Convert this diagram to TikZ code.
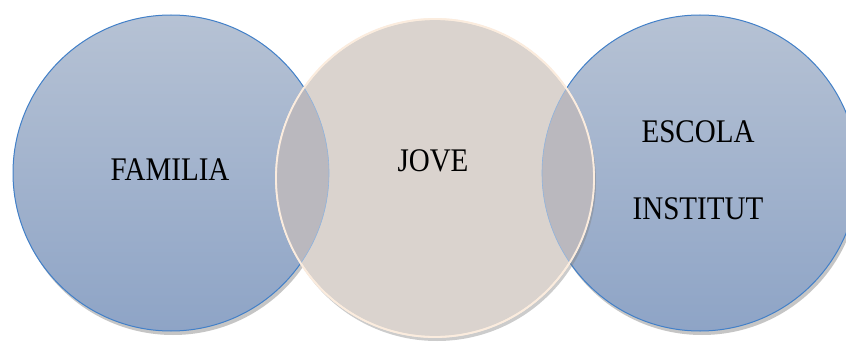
\documentclass[tikz,border=0pt]{standalone}
\usepackage{fontspec}
\setmainfont{Liberation Serif}
\usepackage{tikz}
\usetikzlibrary{shadows,positioning}
\definecolor{bluetop}{RGB}{182,194,212}
\definecolor{bluebot}{RGB}{142,164,198}
\definecolor{blueedge}{RGB}{66,128,200}
\definecolor{beige}{RGB}{218,211,206}
\definecolor{beigeedge}{RGB}{251,236,222}
\definecolor{overlap}{RGB}{186,184,190}

\tikzset{
  sidecircle/.style={circle, minimum size=316pt, inner sep=0pt,
    top color=bluetop, bottom color=bluebot, draw=blueedge, line width=1pt,
    drop shadow={shadow xshift=2pt, shadow yshift=-4pt, opacity=0.45}},
  midcircle/.style={circle, minimum size=318pt, inner sep=0pt,
    fill=beige, draw=beigeedge, line width=1.8pt,
    drop shadow={shadow xshift=2pt, shadow yshift=-4pt, opacity=0.4}},
  label/.style={font=\fontsize{33}{33}\selectfont, xscale=0.88, text=black, inner sep=0pt}
}

\begin{document}
\begin{tikzpicture}[x=1pt, y=-1pt]
  \useasboundingbox (0,0) rectangle (846,345);
  \fill[white] (0,0) rectangle (846,345);
  % the three circles
  \node[sidecircle] (familia) at (171,173) {};
  \node[sidecircle] (escola) at (700,173) {};
  \node[midcircle] (jove) at (435,178) {};
  % overlaps
  \begin{scope}
    \clip (jove.center) circle (159pt);
    \fill[overlap] (familia.center) circle (158pt);
    \fill[overlap] (escola.center) circle (158pt);
    \draw[blueedge!60, line width=0.6pt] (familia.center) circle (158pt);
    \draw[blueedge!60, line width=0.6pt] (escola.center) circle (158pt);
  \end{scope}
  \draw[beigeedge, line width=1.8pt] (jove.center) circle (159pt);
  % texts
  \node[label] (tfamilia) at (170,170) {FAMILIA};
  \node[label] (tjove) at (433,161) {JOVE};
  \node[label] (tescola) at (698,132) {ESCOLA};
  \node[label] (tinstitut) at (698,209) {INSTITUT};
\end{tikzpicture}
\end{document}
